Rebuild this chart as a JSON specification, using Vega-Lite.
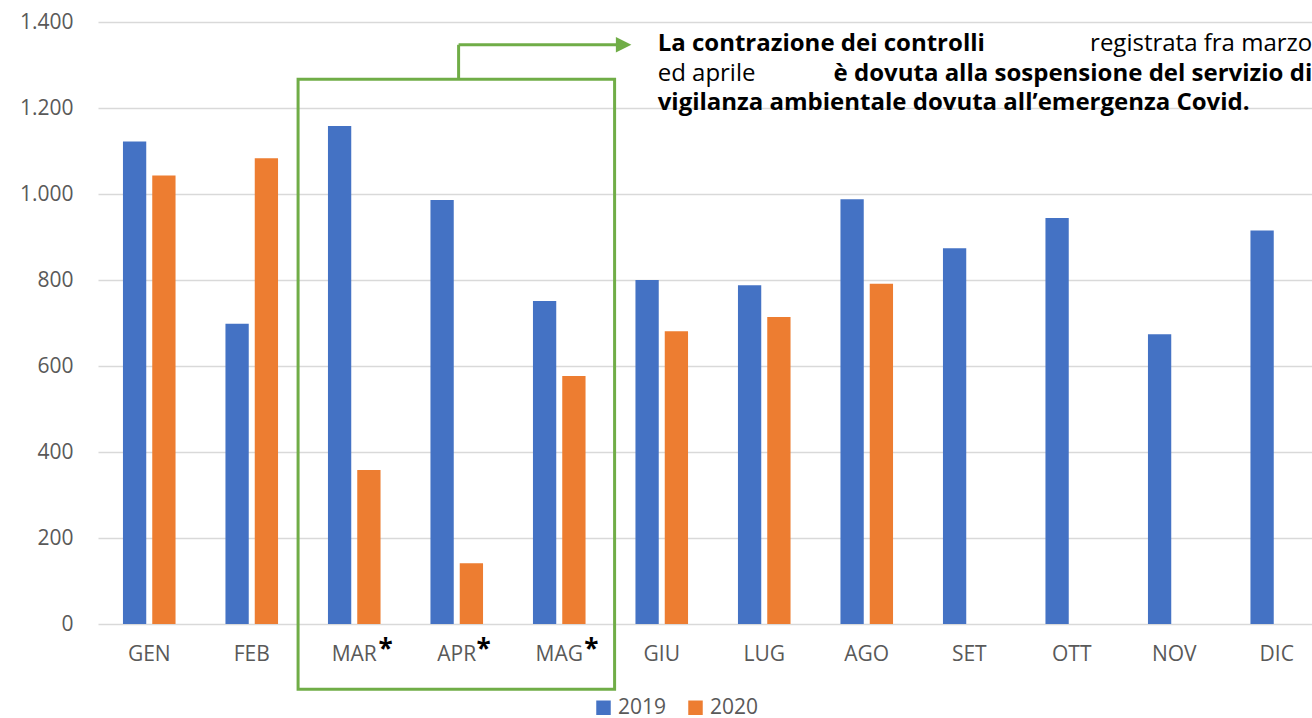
{
  "$schema": "https://vega.github.io/schema/vega-lite/v6.json",
  "width": 1214,
  "height": 602,
  "autosize": "none",
  "padding": {"left": 98, "top": 22, "right": 0, "bottom": 94},
  "config": {
    "view": {"stroke": null},
    "font": "Open Sans",
    "locale": {"number": {"decimal": ",", "thousands": ".", "grouping": [3], "currency": ["€", ""]}}
  },
  "resolve": {"scale": {"x": "independent"}, "axis": {"x": "independent"}},
  "layer": [
    {
      "data": {
        "values": [
          {"month": "GEN", "year": "2019", "value": 1122},
          {"month": "GEN", "year": "2020", "value": 1043},
          {"month": "FEB", "year": "2019", "value": 698},
          {"month": "FEB", "year": "2020", "value": 1083},
          {"month": "MAR", "year": "2019", "value": 1158},
          {"month": "MAR", "year": "2020", "value": 358},
          {"month": "APR", "year": "2019", "value": 986},
          {"month": "APR", "year": "2020", "value": 141},
          {"month": "MAG", "year": "2019", "value": 751},
          {"month": "MAG", "year": "2020", "value": 577},
          {"month": "GIU", "year": "2019", "value": 800},
          {"month": "GIU", "year": "2020", "value": 681},
          {"month": "LUG", "year": "2019", "value": 788},
          {"month": "LUG", "year": "2020", "value": 714},
          {"month": "AGO", "year": "2019", "value": 988},
          {"month": "AGO", "year": "2020", "value": 791},
          {"month": "SET", "year": "2019", "value": 874},
          {"month": "OTT", "year": "2019", "value": 944},
          {"month": "NOV", "year": "2019", "value": 674},
          {"month": "DIC", "year": "2019", "value": 915}
        ]
      },
      "mark": {"type": "bar"},
      "encoding": {
        "x": {
          "field": "month", "type": "nominal",
          "sort": ["GEN", "FEB", "MAR", "APR", "MAG", "GIU", "LUG", "AGO", "SET", "OTT", "NOV", "DIC"],
          "scale": {"range": [0, 1230], "paddingInner": 0.487, "paddingOuter": 0.2435},
          "axis": {"title": null, "labelAngle": 0, "domain": false, "ticks": false, "labelPadding": 19, "labelFontSize": 21, "labelColor": "#595959", "labelFont": "Open Sans"}
        },
        "xOffset": {"field": "year", "type": "nominal", "scale": {"paddingInner": 0.205, "paddingOuter": 0}},
        "y": {
          "field": "value", "type": "quantitative",
          "scale": {"domain": [0, 1400], "nice": false},
          "axis": {"title": null, "values": [0, 200, 400, 600, 800, 1000, 1200, 1400], "format": ",.0f", "domain": false, "ticks": false, "labelPadding": 25, "labelFontSize": 21, "labelColor": "#595959", "gridColor": "#d9d9d9", "gridWidth": 1.5, "labelFont": "Open Sans"}
        },
        "color": {
          "field": "year", "type": "nominal",
          "scale": {"domain": ["2019", "2020"], "range": ["#4472c4", "#ed7d31"]},
          "legend": {"title": null, "orient": "none", "legendX": 495, "legendY": 675, "direction": "horizontal", "symbolType": "square", "symbolSize": 210, "symbolStrokeWidth": 0, "labelFontSize": 21, "labelColor": "#595959", "labelOffset": 4, "columnPadding": 18, "labelFont": "Open Sans"}
        }
      }
    },
    {
      "data": {"values": [{}]},
      "mark": {"type": "rect", "filled": false, "stroke": "#70ad47", "strokeWidth": 3},
      "encoding": {
        "x": {"datum": 1.952, "type": "quantitative", "scale": {"domain": [0, 12], "range": [0, 1230]}, "axis": null},
        "x2": {"datum": 5.04},
        "y": {"datum": 1266.7, "type": "quantitative", "scale": {"domain": [0, 1400], "nice": false}},
        "y2": {"datum": -151.9}
      }
    },
    {
      "data": {"values": [{}]},
      "mark": {"type": "rule", "stroke": "#70ad47", "strokeWidth": 3},
      "encoding": {
        "x": {"datum": 3.518, "type": "quantitative", "scale": {"domain": [0, 12], "range": [0, 1230]}, "axis": null},
        "y": {"datum": 1266.7, "type": "quantitative", "scale": {"domain": [0, 1400], "nice": false}},
        "y2": {"datum": 1347}
      }
    },
    {
      "data": {"values": [{}]},
      "mark": {"type": "rule", "stroke": "#70ad47", "strokeWidth": 3},
      "encoding": {
        "x": {"datum": 3.518, "type": "quantitative", "scale": {"domain": [0, 12], "range": [0, 1230]}, "axis": null},
        "x2": {"datum": 5.07},
        "y": {"datum": 1347, "type": "quantitative", "scale": {"domain": [0, 1400], "nice": false}}
      }
    },
    {
      "data": {"values": [{}]},
      "mark": {"type": "point", "shape": "M-1,-1L1,0L-1,1Z", "filled": true, "color": "#70ad47", "opacity": 1, "size": 240},
      "encoding": {
        "x": {"datum": 5.128, "type": "quantitative", "scale": {"domain": [0, 12], "range": [0, 1230]}, "axis": null},
        "y": {"datum": 1347, "type": "quantitative", "scale": {"domain": [0, 1400], "nice": false}}
      }
    },
    {
      "data": {"values": [{}]},
      "mark": {"type": "text", "text": "La contrazione dei controlli", "font": "Open Sans", "fontWeight": "bold", "fontSize": 24, "fill": "#000000", "align": "left", "baseline": "middle"},
      "encoding": {
        "x": {"datum": 5.46, "type": "quantitative", "scale": {"domain": [0, 12], "range": [0, 1230]}, "axis": null},
        "y": {"datum": 1349, "type": "quantitative", "scale": {"domain": [0, 1400], "nice": false}}
      }
    },
    {
      "data": {"values": [{}]},
      "mark": {"type": "text", "text": "registrata fra marzo", "font": "Open Sans", "fontSize": 24, "fill": "#000000", "align": "right", "baseline": "middle"},
      "encoding": {
        "x": {"datum": 11.846, "type": "quantitative", "scale": {"domain": [0, 12], "range": [0, 1230]}, "axis": null},
        "y": {"datum": 1349, "type": "quantitative", "scale": {"domain": [0, 1400], "nice": false}}
      }
    },
    {
      "data": {"values": [{}]},
      "mark": {"type": "text", "text": "ed aprile", "font": "Open Sans", "fontSize": 24, "fill": "#000000", "align": "left", "baseline": "middle"},
      "encoding": {
        "x": {"datum": 5.46, "type": "quantitative", "scale": {"domain": [0, 12], "range": [0, 1230]}, "axis": null},
        "y": {"datum": 1280, "type": "quantitative", "scale": {"domain": [0, 1400], "nice": false}}
      }
    },
    {
      "data": {"values": [{}]},
      "mark": {"type": "text", "text": "è dovuta alla sospensione del servizio di", "font": "Open Sans", "fontWeight": "bold", "fontSize": 24, "fill": "#000000", "align": "right", "baseline": "middle"},
      "encoding": {
        "x": {"datum": 11.846, "type": "quantitative", "scale": {"domain": [0, 12], "range": [0, 1230]}, "axis": null},
        "y": {"datum": 1280, "type": "quantitative", "scale": {"domain": [0, 1400], "nice": false}}
      }
    },
    {
      "data": {"values": [{}]},
      "mark": {"type": "text", "text": "vigilanza ambientale dovuta all’emergenza Covid.", "font": "Open Sans", "fontWeight": "bold", "fontSize": 24, "fill": "#000000", "align": "left", "baseline": "middle"},
      "encoding": {
        "x": {"datum": 5.46, "type": "quantitative", "scale": {"domain": [0, 12], "range": [0, 1230]}, "axis": null},
        "y": {"datum": 1211, "type": "quantitative", "scale": {"domain": [0, 1400], "nice": false}}
      }
    },
    {
      "data": {"values": [{}]},
      "mark": {"type": "text", "text": "*", "font": "Open Sans", "fontWeight": "bold", "fontSize": 26, "fill": "#000000", "align": "center", "baseline": "middle"},
      "encoding": {
        "x": {"datum": 2.806, "type": "quantitative", "scale": {"domain": [0, 12], "range": [0, 1230]}, "axis": null},
        "y": {"datum": -60, "type": "quantitative", "scale": {"domain": [0, 1400], "nice": false}}
      }
    },
    {
      "data": {"values": [{}]},
      "mark": {"type": "text", "text": "*", "font": "Open Sans", "fontWeight": "bold", "fontSize": 26, "fill": "#000000", "align": "center", "baseline": "middle"},
      "encoding": {
        "x": {"datum": 3.762, "type": "quantitative", "scale": {"domain": [0, 12], "range": [0, 1230]}, "axis": null},
        "y": {"datum": -60, "type": "quantitative", "scale": {"domain": [0, 1400], "nice": false}}
      }
    },
    {
      "data": {"values": [{}]},
      "mark": {"type": "text", "text": "*", "font": "Open Sans", "fontWeight": "bold", "fontSize": 26, "fill": "#000000", "align": "center", "baseline": "middle"},
      "encoding": {
        "x": {"datum": 4.813, "type": "quantitative", "scale": {"domain": [0, 12], "range": [0, 1230]}, "axis": null},
        "y": {"datum": -60, "type": "quantitative", "scale": {"domain": [0, 1400], "nice": false}}
      }
    }
  ]
}
